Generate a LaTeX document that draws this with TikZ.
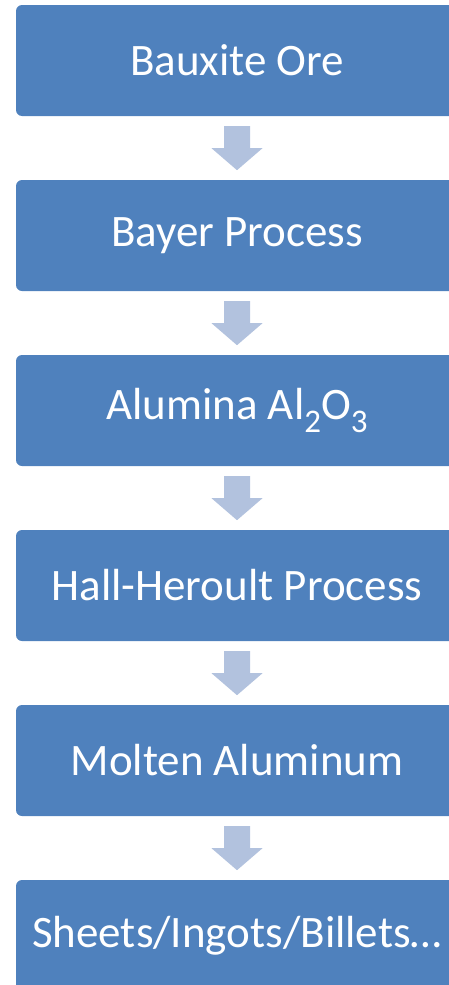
\documentclass[tikz,border=0pt]{standalone}
\usepackage{fontspec}
\setmainfont{Carlito}
\definecolor{boxblue}{HTML}{4F81BD}
\definecolor{arrowblue}{HTML}{B2C2DE}
\newcommand{\chemsub}[1]{\raisebox{-0.27em}{\fontsize{33}{33}\selectfont #1}}
\begin{document}
\begin{tikzpicture}[x=1pt,y=1pt,
  stage/.style={fill=boxblue, draw=none, rounded corners=6pt, minimum width=442pt, minimum height=111pt, inner sep=0pt, text=white, font=\fontsize{45}{54}\selectfont},
  flowarrow/.style={fill=arrowblue, draw=none}]
\useasboundingbox (0,0) rectangle (449,-985);
\clip (0,0) rectangle (449,-985);
\node[stage] (b1) at (237,-60.5) {Bauxite Ore};
\node[stage] (b2) at (237,-235.5) {Bayer Process};
\node[stage] (b3) at (237,-410.5) {Alumina Al\chemsub{2}O\chemsub{3}};
\node[stage] (b4) at (237,-585.5) {Hall-Heroult Process};
\node[stage] (b5) at (237,-760.5) {Molten Aluminum};
\node[stage] (b6) at (237,-935.5) {Sheets/Ingots/Billets…};
\foreach \a in {1,...,5}{
  \fill[flowarrow] ([yshift=-10pt]b\a.south) ++(-13,0) -- ++(26,0) -- ++(0,-22) -- ++(12.5,0) -- ++(-25.5,-22) -- ++(-25.5,22) -- ++(12.5,0) -- cycle;
}
\end{tikzpicture}
\end{document}
